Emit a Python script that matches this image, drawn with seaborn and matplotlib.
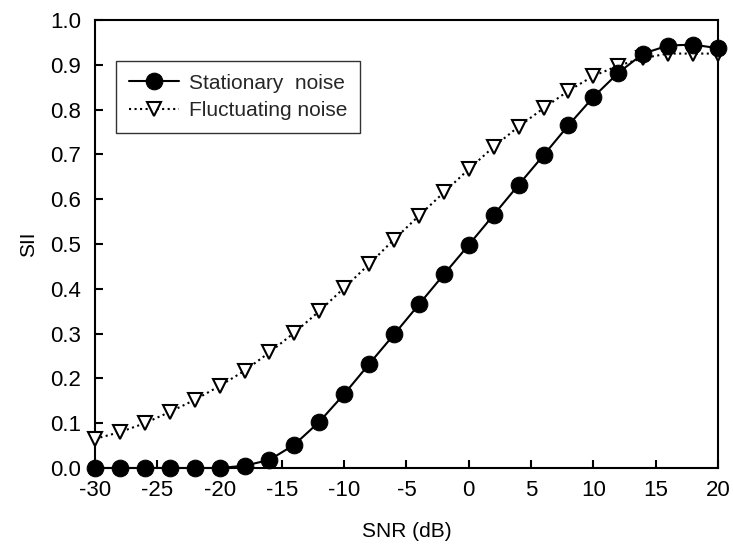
import numpy as np
import pandas as pd
import matplotlib
matplotlib.use('Agg')
import matplotlib.pyplot as plt
import seaborn as sns

snr = [-30, -28, -26, -24, -22, -20, -18, -16, -14, -12, -10, -8, -6,
       -4, -2, 0, 2, 4, 6, 8, 10, 12, 14, 16, 18, 20]
sii_stationary = [0.0, 0.0, 0.0, 0.0, 0.0, 0.0, 0.005, 0.018, 0.052, 0.103,
                  0.165, 0.232, 0.298, 0.365, 0.432, 0.498, 0.565, 0.632,
                  0.698, 0.765, 0.828, 0.882, 0.925, 0.943, 0.945, 0.937]
sii_fluctuating = [0.065, 0.08, 0.10, 0.125, 0.152, 0.183, 0.217, 0.258,
                   0.302, 0.350, 0.402, 0.455, 0.510, 0.563, 0.615, 0.667,
                   0.717, 0.762, 0.803, 0.842, 0.875, 0.898, 0.915, 0.925,
                   0.925, 0.925]
y_ticks = [0.0, 0.1, 0.2, 0.3, 0.4, 0.5, 0.6, 0.7, 0.8, 0.9, 1.0]
x_ticks = [-30, -25, -20, -15, -10, -5, 0, 5, 10, 15, 20]

sns.set_theme(style='white')
plt.rcParams['font.family'] = ['Liberation Sans', 'DejaVu Sans']
plt.rcParams['axes.unicode_minus'] = False

df = pd.DataFrame({'snr': snr, 'stat': sii_stationary, 'fluct': sii_fluctuating})

fig = plt.figure(figsize=(7.33, 5.52), dpi=100)
ax = fig.add_axes([0.1296, 0.1522, 0.8499, 0.8116])

sns.lineplot(data=df, x='snr', y='fluct', ax=ax, color='black', linestyle=':',
             linewidth=1.5, marker='v', markersize=10.5, markerfacecolor='white',
             markeredgecolor='black', markeredgewidth=1.5, label='Fluctuating noise',
             clip_on=False, zorder=3)
sns.lineplot(data=df, x='snr', y='stat', ax=ax, color='black', linestyle='-',
             linewidth=1.5, marker='o', markersize=12, markerfacecolor='black',
             markeredgecolor='black', label='Stationary  noise',
             clip_on=False, zorder=4)

ax.set_xlim(-30, 20)
ax.set_ylim(0, 1.0)
ax.set_xticks(x_ticks)
ax.set_yticks(y_ticks)
ax.set_yticklabels([f'{v:.1f}' for v in y_ticks])
ax.tick_params(direction='in', length=6, width=1.5, labelsize=16, colors='black',
               left=True, bottom=True, top=False, right=False)
ax.tick_params(axis='y', pad=10)
ax.tick_params(axis='x', pad=9)
for s in ax.spines.values():
    s.set_color('black')
    s.set_linewidth(1.5)
ax.set_xlabel('SNR (dB)', fontsize=15, color='black', labelpad=15)
ax.set_ylabel('SII', fontsize=15, color='black', labelpad=9)

handles, labels = ax.get_legend_handles_labels()
leg = ax.legend(handles[::-1], labels[::-1], loc='upper left',
                bbox_to_anchor=(0.034, 0.908), fontsize=15, frameon=True,
                fancybox=False, edgecolor='black', handlelength=2.4,
                handletextpad=0.5, borderpad=0.6, labelspacing=0.4,
                borderaxespad=0)
leg.get_frame().set_linewidth(1.0)

fig.savefig('out.png', dpi=100)
